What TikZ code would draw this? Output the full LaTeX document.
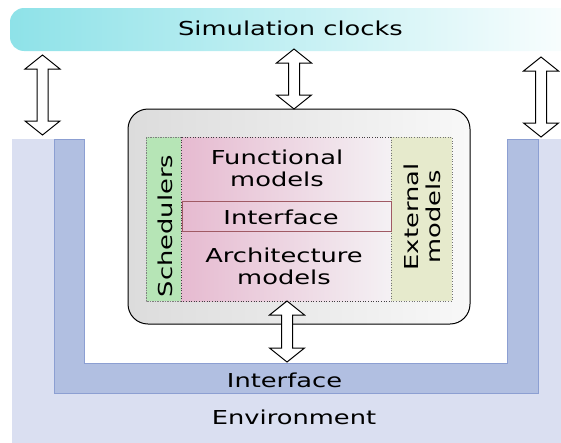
\documentclass[tikz,border=0pt]{standalone}
\usepackage{fontspec}
\setmainfont{DejaVu Sans}[FakeStretch=1.34]
\definecolor{clk}{HTML}{8EE2E8}
\definecolor{envc}{HTML}{DADFF1}
\definecolor{ifc}{HTML}{B1BFE1}
\definecolor{ifb}{HTML}{8C9FD2}
\definecolor{schc}{HTML}{B6E5B6}
\definecolor{extc}{HTML}{E6EACC}
\definecolor{pinkl}{HTML}{E6BAD0}
\definecolor{pinkr}{HTML}{F4F1F4}
\definecolor{ifline}{HTML}{A05A64}
\definecolor{corel}{HTML}{DCDCDC}
\definecolor{corer}{HTML}{F8F8F8}
\begin{document}
\begin{tikzpicture}[x=1pt,y=-1pt,
  lbl/.style={inner sep=0pt, font=\fontsize{19.2}{22}\selectfont, align=center},
  arr/.style={draw=black, fill=white, line width=1pt, line join=miter},
  pics/blockarrow/.style={code={\path[arr] (0,0) -- (17.5,14) -- (5.5,14) -- (5.5,{#1-14}) -- (17.5,{#1-14}) -- (0,#1) -- (-17.5,{#1-14}) -- (-5.5,{#1-14}) -- (-5.5,14) -- (-17.5,14) -- cycle;}},
  boxline/.style={line width=0.6pt}]
\useasboundingbox (0,0) rectangle (561,442);
% clocks bar and environment
\begin{scope}
\clip (0,0) rectangle (561,442);
\shade[left color=clk, right color=white, rounded corners=14] (10,8) rectangle (600,51);
\fill[envc] (12,139) rectangle (600,460);
\end{scope}
\fill[white] (84,139) rectangle (507,363);
% interface U
\filldraw[fill=ifc, draw=ifb, line width=0.8pt] (54,139) -- (54,393) -- (538,393) -- (538,139) -- (507,139) -- (507,363) -- (84,363) -- (84,139) -- cycle;
% container
\shade[left color=corel, right color=corer, rounded corners=20] (128,109) rectangle (470,324);
\draw[line width=1pt, rounded corners=20] (128,109) rectangle (470,324);
% inner boxes
\filldraw[fill=schc, draw=black!50, dashed, dash pattern=on 1.5pt off 1pt, boxline] (146,137) rectangle (181,301);
\shade[left color=pinkl, right color=pinkr] (181,137) rectangle (391,301);
\draw[black!75, dotted, boxline] (181,137) rectangle (391,301);
\filldraw[fill=extc, draw=black!55, dotted, boxline] (391,137) rectangle (452,301);
\shade[left color=pinkl, right color=pinkr] (182,201) rectangle (391,231);
\draw[ifline, line width=0.8pt] (182,201) rectangle (391,231);
% labels
\node[lbl] (clocks) at (290.5,28.7) {Simulation clocks};
\node[lbl] (func) at (277,168.7) {Functional\\models};
\node[lbl] (iface) at (281,217.5) {Interface};
\node[lbl] (arch) at (284,266.7) {Architecture\\models};
\node[lbl, rotate=90] (sched) at (165,226) {Schedulers};
\node[lbl, rotate=90] (ext) at (422,217) {External\\models};
\node[lbl] (ifout) at (284.5,380) {Interface};
\node[lbl] (env) at (294,417) {Environment};
% arrows
\coordinate (aL) at (42.5,55);
\coordinate (aM) at (294,49);
\coordinate (aR) at (541,57);
\coordinate (aB) at (287,301);
\pic at (aL) {blockarrow=80};
\pic at (aM) {blockarrow=60};
\pic at (aR) {blockarrow=80};
\pic at (aB) {blockarrow=61};
\end{tikzpicture}
\end{document}
